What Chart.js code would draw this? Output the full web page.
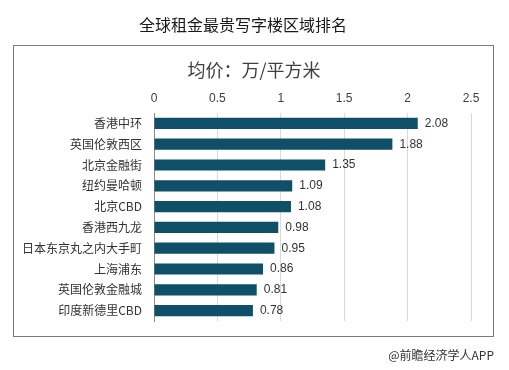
<!DOCTYPE html>
<html><head><meta charset="utf-8">
<script src="https://cdn.jsdelivr.net/npm/chart.js@4/dist/chart.umd.min.js"></script>
<style>html,body{margin:0;padding:0;background:#fff;}canvas{display:block;}</style>
</head><body>
<canvas id="c" width="509" height="370"></canvas>
<script>
const titleText = "全球租金最贵写字楼区域排名";
const subtitleText = "均价：万/平方米";
const sourceText = "@前瞻经济学人APP";
const categories = ["香港中环","英国伦敦西区","北京金融街","纽约曼哈顿","北京CBD","香港西九龙","日本东京丸之内大手町","上海浦东","英国伦敦金融城","印度新德里CBD"];
const values = [2.08,1.88,1.35,1.09,1.08,0.98,0.95,0.86,0.81,0.78];
const xTicks = [0,0.5,1,1.5,2,2.5];

const cjk = '"Noto Sans CJK SC","Microsoft YaHei",sans-serif';
const latin = '"Liberation Sans",Arial,sans-serif';

const decor = {
  id:'decor',
  beforeDraw(chart){
    const ctx = chart.ctx;
    ctx.save();
    ctx.fillStyle='#fff';ctx.fillRect(0,0,chart.width,chart.height);
    ctx.strokeStyle='#7a7a7a';ctx.lineWidth=1;
    ctx.strokeRect(13.5,45.5,480,291);
    ctx.fillStyle='#1a1a1a';ctx.font='16px '+cjk;ctx.textAlign='center';ctx.textBaseline='middle';
    ctx.fillText(titleText,243,25);
    ctx.fillStyle='#404040';ctx.font='18px '+cjk;
    ctx.fillText(subtitleText,254,70);
    ctx.fillStyle='#333';ctx.font='12px '+cjk;ctx.textAlign='right';
    ctx.fillText(sourceText,494,355);
    ctx.restore();
  },
  afterDatasetsDraw(chart){
    const ctx = chart.ctx;
    const meta = chart.getDatasetMeta(0);
    ctx.save();
    ctx.fillStyle='#333';ctx.font='12px '+latin;ctx.textAlign='left';ctx.textBaseline='middle';
    meta.data.forEach((bar,i)=>{
      ctx.fillText(values[i].toFixed(2),bar.x+7,bar.y);
    });
    ctx.restore();
  }
};

new Chart(document.getElementById('c'),{
  type:'bar',
  data:{labels:categories,datasets:[{data:values,backgroundColor:'#0f4f68',barPercentage:0.9,categoryPercentage:0.6}]},
  options:{
    indexAxis:'y',responsive:false,animation:false,
    layout:{padding:{left:0,right:38,top:0,bottom:49}},
    plugins:{legend:{display:false},tooltip:{enabled:false},title:{display:false}},
    scales:{
      x:{position:'top',min:0,max:2.5,
        afterBuildTicks(s){s.ticks=xTicks.map(v=>({value:v}));},
        afterFit(s){s.height=113;},
        grid:{color:'#d9d9d9',drawTicks:false},
        border:{display:false},
        ticks:{color:'#404040',font:{family:latin,size:12},padding:7,callback:(v)=>String(v)}
      },
      y:{
        afterFit(s){s.width=154;},
        grid:{display:false,drawTicks:false},
        border:{display:true,color:'#8a8a8a'},
        ticks:{color:'#333',font:{family:cjk,size:12},padding:12}
      }
    }
  },
  plugins:[decor]
});
</script>
</body></html>
